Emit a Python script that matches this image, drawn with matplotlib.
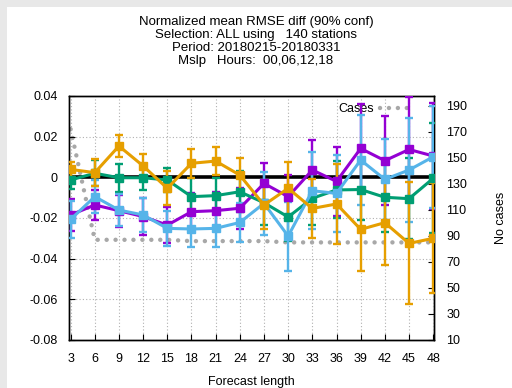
import matplotlib
matplotlib.use("Agg")
import matplotlib.pyplot as plt
from matplotlib.patches import Rectangle

plt.rcParams['font.family'] = ['Liberation Sans', 'DejaVu Sans']
plt.rcParams['axes.unicode_minus'] = False

# forecast lengths (hours)
lead = [3, 6, 9, 12, 15, 18, 21, 24, 27, 30, 33, 36, 39, 42, 45, 48]

# normalized mean RMSE difference and 90% half-widths, one pair per experiment
purple_y = [-0.0185, -0.0136, -0.0164, -0.0193, -0.0235, -0.0169, -0.0164, -0.0152,
            -0.0030, -0.0095, 0.0036, -0.0020, 0.0142, 0.0082, 0.0137, 0.0105]
purple_e = [0.0080, 0.0075, 0.0078, 0.0089, 0.0090, 0.0090, 0.0090, 0.0100,
            0.0100, 0.0106, 0.0150, 0.0170, 0.0220, 0.0220, 0.0260, 0.0260]

green_y = [-0.0013, 0.0020, -0.0002, -0.0002, -0.0013, -0.0095, -0.0090, -0.0071,
           -0.0125, -0.0195, -0.0103, -0.0062, -0.0060, -0.0098, -0.0105, -0.0005]
green_e = [0.0043, 0.0065, 0.0070, 0.0060, 0.0060, 0.0090, 0.0085, 0.0100,
           0.0110, 0.0120, 0.0130, 0.0140, 0.0150, 0.0170, 0.0200, 0.0270]

lblue_y = [-0.0207, -0.0095, -0.0161, -0.0185, -0.0251, -0.0254, -0.0251, -0.0222,
           -0.0128, -0.0289, -0.0066, -0.0079, 0.0085, -0.0010, 0.0036, 0.0101]
lblue_e = [0.0090, 0.0082, 0.0080, 0.0085, 0.0085, 0.0090, 0.0090, 0.0095,
           0.0156, 0.0170, 0.0190, 0.0190, 0.0220, 0.0200, 0.0254, 0.0250]

orange_y = [0.0039, 0.0023, 0.0154, 0.0056, -0.0054, 0.0069, 0.0080, 0.0011,
            -0.0136, -0.0054, -0.0153, -0.0131, -0.0256, -0.0223, -0.0325, -0.0300]
orange_e = [0.0035, 0.0068, 0.0053, 0.0057, 0.0083, 0.0070, 0.0070, 0.0085,
            0.0120, 0.0130, 0.0147, 0.0196, 0.0204, 0.0210, 0.0300, 0.0270]

# number of cases per forecast length
cases = [172, 87, 87, 87, 87, 86, 86, 86, 86, 85, 85, 85, 85, 85, 85, 85]

title = ("Normalized mean RMSE diff (90% conf)\n"
         "Selection: ALL using   140 stations\n"
         "Period: 20180215-20180331\n"
         "Mslp   Hours:  00,06,12,18")

fig = plt.figure(figsize=(5.12, 3.88), dpi=100)
fig.patch.set_facecolor('#e8e8e8')
fig.patches.append(Rectangle((7 / 512, 0), 1, 1 - 7 / 388, transform=fig.transFigure,
                             facecolor='white', edgecolor='none', zorder=-10))

ax = fig.add_axes([69 / 512, 48 / 388, 365 / 512, 244 / 388])
ax2 = ax.twinx()
ax.set_zorder(ax2.get_zorder() + 1)
ax.patch.set_visible(False)
ax.set_axisbelow(True)

ax.axhline(0, color='black', lw=2.6, zorder=2)

series = [(purple_y, purple_e, '#9400d3'),
          (green_y, green_e, '#009e73'),
          (lblue_y, lblue_e, '#56b4e9'),
          (orange_y, orange_e, '#e69f00')]
for vals, errs, col in series:
    ax.errorbar(lead, vals, yerr=errs, color=col, lw=2.2, marker='s', ms=5.5,
                elinewidth=1.7, capsize=2.7, capthick=1.7, zorder=3)

ax2.plot(lead, cases, color='#a8a8a8', lw=3.2, linestyle=(0, (0.01, 2.0)),
         dash_capstyle='round', label='Cases')

ax.set_xlim(2.8, 48.1)
ax.set_ylim(-0.08, 0.04)
ax.set_xticks(lead)
ax.set_yticks([-0.08, -0.06, -0.04, -0.02, 0, 0.02, 0.04])
ax.set_yticklabels(['-0.08', '-0.06', '-0.04', '-0.02', '0', '0.02', '0.04'])
ax2.set_ylim(10, 197.5)
ax2.set_yticks(range(10, 191, 20))

ax.grid(True, color='#b0b0b0', linestyle=(0, (1, 2)), lw=0.8)
for a in (ax, ax2):
    a.tick_params(direction='in', length=4, labelsize=9, colors='black')
    for s in a.spines.values():
        s.set_linewidth(1)
ax.tick_params(axis='x', pad=9)
ax.tick_params(axis='y', pad=8)
ax2.tick_params(axis='y', pad=9)

ax.set_xlabel('Forecast length', fontsize=9, labelpad=8)
ax2.set_ylabel('No cases', fontsize=9, labelpad=20)
fig.text(0.5, 0.958, title, ha='center', va='top', fontsize=9.5, linespacing=1.1)

leg = ax2.legend(loc='upper right', bbox_to_anchor=(0.955, 1.0), frameon=False,
                 markerfirst=False, handlelength=2.4, handletextpad=0.5,
                 fontsize=9, borderaxespad=0.2)

fig.savefig('out.png', dpi=100, facecolor=fig.get_facecolor())
